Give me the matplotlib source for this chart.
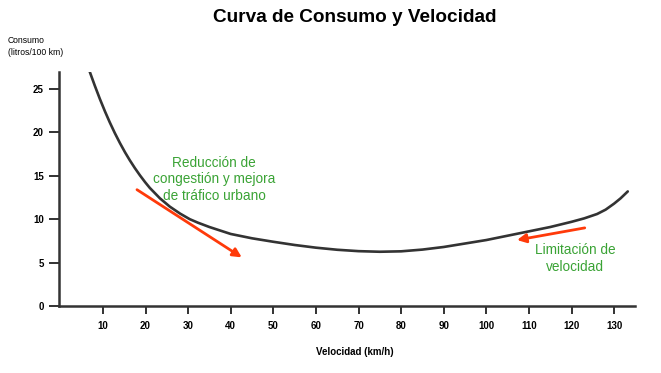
import matplotlib
matplotlib.use("Agg")
import matplotlib.pyplot as plt

plt.rcParams['font.family'] = ['Liberation Sans', 'DejaVu Sans']

# Data
velocidad = [6.9, 8.1, 9.3, 10.5, 11.6, 12.8, 14.0, 15.2, 16.3, 17.5, 18.7, 19.9, 21.0, 23.4, 25.7, 28.1,
             30.4, 32.3, 35, 40, 45, 50, 55, 60, 65, 70, 75, 80, 85, 90, 95, 100, 105, 110, 115, 120,
             123, 126, 128, 130, 131.5, 133.2]
consumo = [27.0, 25.38, 23.84, 22.40, 21.17, 19.92, 18.77, 17.70, 16.80, 15.89, 15.05, 14.27, 13.61, 12.4,
           11.45, 10.65, 10.0, 9.6, 9.1, 8.3, 7.8, 7.4, 7.03, 6.72, 6.48, 6.32, 6.25, 6.3, 6.5, 6.8, 7.2, 7.6,
           8.1, 8.6, 9.1, 9.7, 10.1, 10.6, 11.1, 11.8, 12.4, 13.2]
x_ticks = [10, 20, 30, 40, 50, 60, 70, 80, 90, 100, 110, 120, 130]
y_ticks = [0, 5, 10, 15, 20, 25]

arrow_urbano = [(18, 13.4), (42.6, 5.6)]
arrow_limite = [(123.1, 9.0), (107.2, 7.6)]
texto_urbano = "Reducción de\ncongestión y mejora\nde tráfico urbano"
texto_limite = "Limitación de\nvelocidad"

fig = plt.figure(figsize=(6.61, 3.73), dpi=100)
ax = fig.add_axes([0.0893, 0.1796, 0.8714, 0.6274])

ax.plot(velocidad, consumo, color='#333333', lw=1.9, solid_capstyle='round', solid_joinstyle='round')

ax.set_xlim(-0.3, 134.9)
ax.set_ylim(0, 26.96)
ax.set_xticks(x_ticks)
ax.set_yticks(y_ticks)
ax.tick_params(axis='x', length=6, width=1.3, color='#222222', pad=5, labelsize=7)
ax.tick_params(axis='y', length=7, width=1.3, color='#222222', pad=4, labelsize=7)
for lab in ax.get_xticklabels() + ax.get_yticklabels():
    lab.set_fontweight('bold')
for s in ['top', 'right']:
    ax.spines[s].set_visible(False)
for s in ['left', 'bottom']:
    ax.spines[s].set_color('#333333')
    ax.spines[s].set_linewidth(1.8)

red = '#ff3a0a'
green = '#3aa335'
for (start, end) in [arrow_urbano, arrow_limite]:
    ax.annotate('', xy=end, xytext=start,
                arrowprops=dict(arrowstyle='-|>', color=red, lw=2, mutation_scale=13,
                                shrinkA=0, shrinkB=0))

ax.text(36.1, 14.6, texto_urbano, ha='center', va='center', color=green,
        fontsize=9.8, linespacing=1.25)
ax.text(120.8, 5.5, texto_limite, ha='center', va='center', color=green,
        fontsize=9.8, linespacing=1.32)

fig.text(0.536, 0.952, "Curva de Consumo y Velocidad", ha='center', va='center',
         fontsize=13.7, fontweight='bold')
fig.text(0.012, 0.875, "Consumo\n(litros/100 km)", ha='left', va='center',
         fontsize=6.2, linespacing=1.5)
fig.text(0.537, 0.057, "Velocidad (km/h)", ha='center', va='center',
         fontsize=7, fontweight='bold')

fig.savefig('out.png', dpi=100)
